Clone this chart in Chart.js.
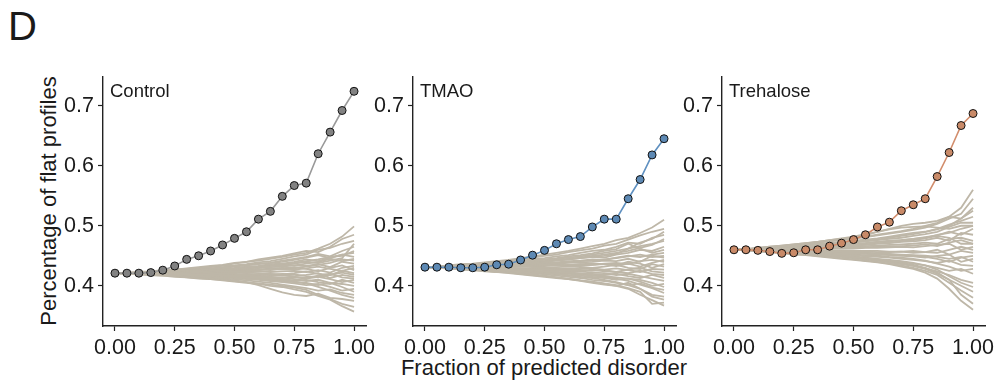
<!DOCTYPE html>
<html>
<head>
<meta charset="utf-8">
<script src="https://cdn.jsdelivr.net/npm/chart.js@4"></script>
<style>
  body { margin: 0; background: #fff; font-family: "Liberation Sans", Arial, sans-serif; }
  #wrap { position: relative; width: 994px; height: 385px; overflow: hidden; }
  canvas { position: absolute; top: 60px; }
  .lbl { position: absolute; color: #1a1a1a; white-space: nowrap; }
</style>
</head>
<body>
<div id="wrap">
  <div class="lbl" style="left:8px; top:4px; font-size:40px;">D</div>
  <div class="lbl" style="left:49px; top:201px; font-size:22px; transform: translate(-50%,-50%) rotate(-90deg);">Percentage of flat profiles</div>
  <div class="lbl" style="left:544px; top:368px; font-size:22px; transform: translate(-50%,-50%);">Fraction of predicted disorder</div>
  <canvas id="c0" width="348" height="306" style="left:40px"></canvas>
  <canvas id="c1" width="348" height="306" style="left:350px"></canvas>
  <canvas id="c2" width="348" height="306" style="left:659px"></canvas>
</div>
<script>
// --- Data ---
const fractions = [0, 0.05, 0.10, 0.15, 0.20, 0.25, 0.30, 0.35, 0.40, 0.45, 0.50,
                   0.55, 0.60, 0.65, 0.70, 0.75, 0.80, 0.85, 0.90, 0.95, 1.00];
const xTicks = [0, 0.25, 0.5, 0.75, 1];
const yTicks = [0.4, 0.5, 0.6, 0.7];
const panelNames = ['Control', 'TMAO', 'Trehalose'];

const controlObserved = [0.421, 0.421, 0.421, 0.422, 0.426, 0.433, 0.444, 0.450, 0.458, 0.468, 0.479,
                         0.490, 0.511, 0.524, 0.549, 0.567, 0.571, 0.620, 0.656, 0.692, 0.724];
const tmaoObserved = [0.431, 0.431, 0.431, 0.430, 0.430, 0.431, 0.435, 0.436, 0.443, 0.451, 0.459,
                      0.470, 0.477, 0.482, 0.498, 0.511, 0.511, 0.545, 0.577, 0.618, 0.645];
const trehaloseObserved = [0.460, 0.460, 0.459, 0.457, 0.454, 0.455, 0.460, 0.460, 0.466, 0.471, 0.477,
                           0.485, 0.498, 0.506, 0.525, 0.535, 0.545, 0.582, 0.622, 0.667, 0.687];

// shuffled-control null profiles
const controlNull = [
  [.421,.422,.423,.424,.426,.427,.429,.431,.433,.435,.438,.440,.442,.445,.448,.452,.455,.462,.470,.482,.499],
  [.421,.422,.422,.424,.425,.427,.428,.430,.432,.434,.437,.440,.444,.447,.450,.454,.458,.456,.465,.478,.485],
  [.421,.421,.422,.423,.424,.425,.427,.429,.431,.433,.434,.436,.439,.441,.445,.449,.452,.460,.463,.470,.475],
  [.421,.421,.421,.422,.423,.425,.426,.427,.428,.430,.432,.434,.436,.438,.442,.445,.448,.453,.449,.458,.465],
  [.421,.422,.422,.423,.423,.424,.425,.427,.428,.429,.430,.432,.433,.436,.437,.440,.444,.441,.447,.452,.455],
  [.421,.421,.421,.422,.422,.423,.424,.424,.425,.427,.428,.430,.432,.433,.435,.434,.437,.440,.445,.441,.445],
  [.421,.421,.422,.422,.423,.423,.424,.425,.426,.426,.427,.429,.430,.431,.432,.434,.433,.436,.431,.440,.437],
  [.421,.421,.421,.421,.422,.422,.422,.423,.423,.424,.424,.425,.426,.427,.428,.427,.429,.432,.428,.425,.430],
  [.421,.421,.421,.421,.421,.421,.421,.422,.421,.420,.421,.422,.421,.420,.419,.421,.424,.420,.418,.425,.421],
  [.421,.421,.421,.420,.420,.420,.419,.419,.418,.418,.417,.417,.416,.416,.418,.415,.413,.417,.420,.414,.412],
  [.421,.421,.420,.420,.419,.419,.418,.417,.417,.416,.415,.414,.414,.412,.411,.409,.410,.406,.403,.410,.405],
  [.421,.420,.420,.419,.418,.418,.417,.416,.415,.414,.413,.411,.410,.408,.406,.404,.401,.403,.398,.392,.395],
  [.421,.420,.420,.419,.418,.417,.416,.415,.414,.412,.411,.409,.407,.405,.402,.399,.396,.392,.394,.388,.385],
  [.421,.421,.420,.419,.418,.417,.415,.414,.413,.411,.409,.406,.401,.395,.389,.385,.383,.387,.380,.378,.375],
  [.421,.420,.419,.418,.417,.416,.414,.413,.411,.410,.408,.406,.404,.402,.400,.397,.393,.385,.378,.370,.365],
  [.421,.420,.419,.418,.417,.415,.414,.412,.411,.409,.407,.405,.403,.400,.398,.394,.390,.383,.377,.366,.357],
  [.421,.421,.422,.423,.424,.425,.426,.428,.429,.431,.433,.435,.437,.438,.440,.443,.447,.451,.446,.452,.448],
  [.421,.421,.421,.422,.422,.423,.423,.424,.425,.425,.426,.427,.428,.426,.429,.431,.428,.424,.430,.434,.426],
  [.421,.421,.421,.421,.420,.420,.420,.420,.419,.419,.419,.418,.418,.419,.417,.416,.418,.421,.413,.418,.415],
  [.421,.421,.420,.420,.420,.419,.419,.418,.418,.417,.416,.415,.414,.413,.414,.411,.408,.410,.405,.403,.400],
  [.421,.421,.422,.422,.423,.424,.425,.426,.427,.428,.429,.431,.432,.434,.436,.438,.441,.444,.448,.450,.458],
  [.421,.421,.421,.422,.422,.423,.423,.424,.424,.425,.426,.426,.427,.429,.430,.429,.432,.435,.438,.444,.442],
  [.421,.421,.421,.421,.421,.422,.422,.422,.422,.423,.423,.423,.424,.423,.424,.425,.423,.426,.422,.430,.433],
  [.421,.421,.421,.420,.420,.420,.420,.420,.420,.419,.419,.420,.419,.418,.420,.419,.416,.414,.418,.422,.418],
  [.421,.421,.420,.420,.420,.419,.419,.418,.418,.418,.417,.416,.416,.415,.413,.414,.412,.415,.411,.406,.410],
  [.421,.420,.420,.419,.419,.418,.417,.417,.416,.415,.414,.413,.412,.411,.410,.407,.405,.401,.405,.398,.390],
  [.421,.421,.420,.420,.419,.418,.418,.417,.416,.415,.414,.413,.411,.410,.408,.406,.404,.398,.392,.385,.380],
  [.421,.421,.421,.422,.422,.423,.424,.425,.426,.427,.428,.430,.431,.433,.434,.437,.440,.438,.442,.446,.470]
];
const tmaoNull = [
  [.431,.432,.434,.436,.437,.439,.441,.443,.446,.449,.452,.455,.458,.462,.466,.470,.476,.480,.488,.497,.510],
  [.431,.432,.433,.435,.436,.438,.440,.442,.444,.447,.450,.452,.456,.459,.462,.467,.470,.477,.484,.490,.495],
  [.431,.432,.433,.434,.435,.437,.438,.440,.442,.444,.446,.449,.451,.455,.458,.460,.465,.472,.470,.480,.485],
  [.431,.431,.432,.433,.434,.435,.436,.438,.439,.441,.443,.445,.447,.449,.452,.455,.458,.462,.466,.470,.475],
  [.431,.431,.432,.433,.433,.434,.435,.436,.437,.439,.440,.442,.444,.446,.448,.447,.452,.455,.460,.458,.465],
  [.431,.431,.432,.432,.433,.433,.434,.435,.436,.437,.438,.439,.441,.442,.444,.443,.447,.450,.448,.452,.455],
  [.431,.431,.431,.432,.432,.433,.433,.434,.434,.435,.436,.437,.438,.439,.440,.442,.441,.445,.440,.450,.447],
  [.431,.431,.431,.431,.432,.432,.432,.433,.433,.433,.434,.434,.435,.436,.435,.437,.438,.436,.441,.443,.440],
  [.431,.431,.431,.431,.431,.431,.431,.431,.432,.431,.430,.431,.432,.431,.430,.432,.435,.430,.428,.436,.432],
  [.431,.431,.430,.430,.430,.429,.429,.428,.428,.427,.427,.426,.426,.425,.427,.424,.423,.427,.430,.424,.422],
  [.431,.430,.430,.429,.429,.428,.427,.427,.426,.425,.424,.423,.422,.421,.420,.418,.420,.416,.413,.418,.413],
  [.431,.430,.430,.429,.428,.427,.426,.425,.424,.423,.421,.420,.418,.417,.415,.413,.410,.412,.407,.400,.403],
  [.431,.430,.429,.428,.427,.426,.425,.424,.422,.421,.419,.417,.415,.413,.410,.408,.405,.401,.404,.397,.393],
  [.431,.430,.429,.428,.427,.425,.424,.423,.421,.419,.417,.414,.411,.408,.405,.402,.400,.405,.395,.385,.382],
  [.431,.430,.429,.428,.426,.425,.423,.422,.420,.418,.416,.414,.412,.409,.407,.404,.401,.396,.390,.370,.372],
  [.431,.430,.429,.427,.426,.424,.423,.421,.419,.417,.415,.413,.411,.409,.406,.403,.400,.395,.385,.376,.367],
  [.431,.432,.433,.434,.435,.436,.438,.439,.441,.443,.444,.446,.449,.451,.454,.458,.461,.470,.462,.455,.460],
  [.431,.431,.431,.432,.432,.432,.433,.433,.433,.434,.434,.435,.434,.436,.437,.436,.434,.440,.437,.430,.436],
  [.431,.431,.431,.430,.430,.430,.429,.429,.429,.428,.428,.427,.428,.426,.425,.426,.423,.421,.425,.420,.418],
  [.431,.430,.430,.429,.428,.428,.427,.426,.425,.424,.423,.422,.421,.419,.418,.416,.414,.412,.410,.405,.398],
  [.431,.432,.432,.433,.434,.435,.436,.437,.438,.440,.441,.443,.445,.447,.450,.452,.455,.458,.463,.468,.478],
  [.431,.431,.432,.432,.433,.433,.434,.434,.435,.436,.437,.438,.439,.441,.442,.444,.446,.449,.452,.448,.450],
  [.431,.431,.431,.431,.432,.432,.432,.432,.433,.433,.433,.434,.434,.433,.435,.436,.433,.437,.432,.438,.443],
  [.431,.431,.431,.430,.430,.430,.430,.430,.429,.429,.429,.429,.428,.428,.429,.427,.429,.426,.423,.428,.427],
  [.431,.431,.430,.430,.430,.429,.429,.428,.428,.427,.426,.425,.424,.424,.422,.421,.418,.420,.416,.412,.408],
  [.431,.430,.430,.429,.429,.428,.427,.426,.425,.424,.423,.422,.420,.419,.417,.415,.412,.408,.402,.396,.388],
  [.431,.430,.430,.429,.428,.427,.426,.425,.424,.422,.421,.419,.417,.415,.413,.410,.406,.401,.395,.382,.377],
  [.431,.432,.433,.433,.434,.435,.436,.437,.438,.439,.441,.442,.444,.446,.448,.450,.453,.462,.472,.478,.490]
];
const trehaloseNull = [
  [.460,.461,.463,.465,.467,.469,.471,.473,.475,.477,.480,.482,.485,.488,.491,.495,.500,.505,.515,.530,.560],
  [.460,.461,.462,.464,.466,.468,.470,.472,.474,.476,.478,.481,.484,.487,.490,.493,.497,.503,.512,.520,.545],
  [.460,.461,.463,.465,.467,.469,.471,.473,.476,.478,.480,.484,.490,.495,.500,.503,.505,.508,.515,.512,.530],
  [.460,.461,.462,.463,.465,.466,.468,.470,.471,.473,.475,.477,.479,.482,.485,.488,.490,.495,.502,.508,.515],
  [.460,.461,.461,.462,.464,.465,.466,.468,.469,.470,.472,.474,.476,.478,.480,.483,.486,.490,.498,.505,.505],
  [.460,.460,.461,.462,.463,.464,.465,.466,.467,.468,.469,.471,.473,.475,.476,.478,.481,.484,.490,.485,.495],
  [.460,.460,.461,.461,.462,.463,.464,.464,.465,.466,.467,.468,.470,.471,.473,.474,.476,.480,.475,.488,.485],
  [.460,.460,.461,.461,.461,.462,.462,.463,.463,.464,.465,.466,.467,.468,.469,.470,.472,.470,.478,.480,.475],
  [.460,.460,.460,.460,.461,.461,.461,.461,.462,.462,.462,.463,.463,.464,.465,.464,.466,.468,.470,.460,.465],
  [.460,.460,.460,.459,.459,.459,.458,.458,.458,.457,.457,.457,.456,.456,.457,.455,.456,.460,.452,.458,.455],
  [.460,.460,.459,.459,.458,.457,.457,.456,.455,.454,.454,.453,.452,.451,.450,.449,.447,.450,.452,.440,.445],
  [.460,.459,.459,.458,.457,.456,.455,.454,.453,.452,.451,.449,.448,.447,.445,.443,.441,.438,.442,.435,.433],
  [.460,.459,.458,.457,.456,.455,.454,.453,.451,.450,.448,.446,.444,.442,.440,.437,.434,.430,.425,.428,.420],
  [.460,.459,.458,.457,.456,.454,.453,.451,.450,.448,.446,.444,.442,.439,.436,.433,.429,.424,.418,.410,.405],
  [.460,.459,.458,.456,.455,.453,.452,.450,.448,.446,.444,.442,.440,.437,.434,.430,.425,.418,.405,.392,.380],
  [.460,.459,.457,.456,.454,.452,.451,.449,.447,.445,.443,.441,.439,.436,.432,.428,.422,.412,.395,.375,.360],
  [.460,.461,.462,.463,.465,.467,.470,.473,.476,.479,.482,.486,.490,.494,.497,.498,.499,.497,.495,.500,.500],
  [.460,.460,.461,.462,.462,.463,.464,.465,.466,.467,.468,.469,.471,.472,.474,.476,.479,.483,.480,.470,.470],
  [.460,.460,.459,.459,.459,.458,.458,.457,.457,.456,.455,.455,.454,.453,.452,.451,.450,.448,.445,.448,.440],
  [.460,.459,.458,.457,.456,.455,.453,.452,.450,.449,.447,.445,.443,.440,.437,.433,.428,.420,.410,.400,.390],
  [.460,.461,.462,.463,.464,.466,.467,.468,.470,.471,.473,.475,.477,.480,.483,.486,.490,.494,.500,.512,.525],
  [.460,.460,.461,.462,.463,.464,.465,.466,.468,.469,.470,.471,.473,.474,.476,.478,.480,.485,.488,.495,.500],
  [.460,.460,.460,.461,.461,.462,.462,.462,.463,.463,.464,.464,.465,.466,.466,.467,.469,.466,.472,.476,.470],
  [.460,.460,.460,.460,.460,.459,.459,.459,.459,.459,.458,.458,.458,.457,.457,.458,.456,.455,.460,.465,.460],
  [.460,.460,.459,.459,.458,.458,.457,.456,.456,.455,.455,.454,.453,.452,.451,.450,.448,.445,.440,.447,.450],
  [.460,.459,.459,.458,.457,.456,.456,.455,.454,.453,.452,.451,.450,.448,.447,.445,.442,.437,.432,.425,.428],
  [.460,.459,.458,.457,.456,.455,.454,.453,.452,.450,.449,.447,.445,.443,.441,.438,.434,.427,.416,.405,.398],
  [.460,.459,.458,.457,.456,.455,.453,.452,.451,.449,.447,.445,.443,.441,.438,.435,.430,.422,.410,.385,.370]
];

// --- Styles ---
const nullColor = 'rgb(190,183,168)';
const panelStyles = [
  { line: '#999999', fill: '#828282' },
  { line: '#5f90c0', fill: '#5d89b4' },
  { line: '#d28d6c', fill: '#c98a68' }
];
const FONT = '"Liberation Sans", Arial, sans-serif';

// --- Panel title plugin ---
const panelTitle = {
  id: 'panelTitle',
  afterDraw(chart, args, opts) {
    const ctx = chart.ctx;
    ctx.save();
    ctx.font = '18.5px ' + FONT;
    ctx.fillStyle = '#1a1a1a';
    ctx.textBaseline = 'alphabetic';
    ctx.fillText(opts.text, chart.chartArea.left + 7, chart.chartArea.top + 20);
    ctx.restore();
  }
};

function toPoints(vals) {
  return vals.map((v, i) => ({ x: fractions[i], y: v }));
}

function makePanel(id, name, observed, nulls, style) {
  // observed series first with order 0 so it sits on top of the grey bundle
  const datasets = [{
    data: toPoints(observed),
    order: 0,
    borderColor: style.line,
    borderWidth: 1.6,
    pointRadius: 4,
    pointBackgroundColor: style.fill,
    pointBorderColor: '#111',
    pointBorderWidth: 1,
    tension: 0
  }];
  nulls.forEach(arr => datasets.push({
    data: toPoints(arr),
    order: 1,
    borderColor: nullColor,
    borderWidth: 1.8,
    pointRadius: 0,
    tension: 0
  }));

  new Chart(document.getElementById(id), {
    type: 'line',
    data: { datasets: datasets },
    plugins: [panelTitle],
    options: {
      responsive: false,
      animation: false,
      events: [],
      layout: { padding: { top: 16, right: 22, left: 0, bottom: 0 } },
      plugins: {
        legend: { display: false },
        tooltip: { enabled: false },
        panelTitle: { text: name }
      },
      scales: {
        x: {
          type: 'linear',
          min: -0.05, max: 1.05,
          afterBuildTicks: s => { s.ticks = xTicks.map(v => ({ value: v })); },
          afterFit: s => { s.height = 40; },
          grid: { drawOnChartArea: false, drawTicks: true, tickLength: 5, tickColor: '#222', tickWidth: 1.2 },
          border: { color: '#222', width: 1.4 },
          ticks: {
            font: { family: FONT, size: 21.5 }, color: '#1a1a1a', padding: 4, maxRotation: 0,
            callback: v => v.toFixed(2)
          }
        },
        y: {
          min: 0.333, max: 0.748,
          afterBuildTicks: s => { s.ticks = yTicks.map(v => ({ value: v })); },
          afterFit: s => { s.width = 63; },
          grid: { drawOnChartArea: false, drawTicks: true, tickLength: 5, tickColor: '#222', tickWidth: 1.2 },
          border: { color: '#222', width: 1.4 },
          ticks: {
            font: { family: FONT, size: 21.5 }, color: '#1a1a1a', padding: 4,
            callback: v => v.toFixed(1)
          }
        }
      }
    }
  });
}

makePanel('c0', panelNames[0], controlObserved, controlNull, panelStyles[0]);
makePanel('c1', panelNames[1], tmaoObserved, tmaoNull, panelStyles[1]);
makePanel('c2', panelNames[2], trehaloseObserved, trehaloseNull, panelStyles[2]);
</script>
</body>
</html>
